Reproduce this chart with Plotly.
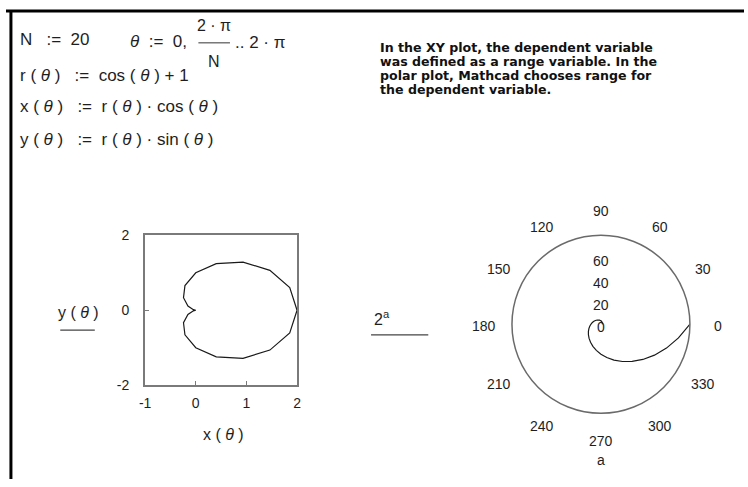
import math
import plotly.graph_objects as go

W, H = 748, 487

# ---- data ----
# XY plot: cardioid sampled at theta = 0, 2*pi/20 .. 2*pi  (21 points)
x_theta = [2.0, 1.85557, 1.46353, 0.93329, 0.40451, 0.0, -0.21353, -0.24229, -0.15451, -0.04655, 0.0,
           -0.04655, -0.15451, -0.24229, -0.21353, 0.0, 0.40451, 0.93329, 1.46353, 1.85557, 2.0]
y_theta = [0.0, 0.60292, 1.06331, 1.28455, 1.24495, 1.0, 0.65716, 0.33349, 0.11226, 0.01512, 0.0,
           -0.01512, -0.11226, -0.33349, -0.65716, -1.0, -1.24495, -1.28455, -1.06331, -0.60292, 0.0]
x_ticks = [-1, 0, 1, 2]
x_ticktext = ["-1", "0", "1", "2"]
y_ticks = [-2, 0, 2]
y_ticktext = ["-2", "0", "2"]

# Polar plot: 2^a, a from 0 to 2*pi (degrees listed)
a_deg = [0, 10, 20, 30, 40, 50, 60, 70, 80, 90, 100, 110, 120, 130, 140, 150, 160, 170, 180,
         190, 200, 210, 220, 230, 240, 250, 260, 270, 280, 290, 300, 310, 320, 330, 340, 350, 360]
r_a = [1.0, 1.1286, 1.2737, 1.4375, 1.6224, 1.8310, 2.0665, 2.3322, 2.6321, 2.9707, 3.3527,
       3.7839, 4.2705, 4.8196, 5.4394, 6.1389, 6.9283, 7.8193, 8.8250, 9.9598, 11.2406,
       12.6861, 14.3175, 16.1587, 18.2367, 20.5818, 23.2286, 26.2156, 29.5868, 33.3916,
       37.6856, 42.5318, 48.0012, 54.1739, 61.1404, 69.0028, 77.8766]
ang_ticks = [0, 30, 60, 90, 120, 150, 180, 210, 240, 270, 300, 330]
rad_ticks = [0, 20, 40, 60]
r_max = 78

FONT = "Liberation Sans, Arial, sans-serif"
NOTE_FONT = "DejaVu Sans, Verdana, sans-serif"
INK = "#1e1e1e"

def px(x):
    return x / W

def py(y):
    return 1 - y / H

fig = go.Figure()

fig.add_trace(go.Scatter(x=x_theta, y=y_theta, mode="lines",
                         line=dict(color="#1a1a1a", width=1.2),
                         xaxis="x", yaxis="y", showlegend=False, hoverinfo="skip"))

fig.add_trace(go.Scatterpolar(r=r_a, theta=a_deg, mode="lines",
                              line=dict(color="#1a1a1a", width=1.2),
                              showlegend=False, hoverinfo="skip"))

# XY plot geometry (pixels)
xl, xr, yt, yb = 141, 295, 235, 390
# polar geometry (pixels)
cx, cy, R = 603, 327, 92

tickfont = dict(family=FONT, size=14, color=INK)
fig.update_layout(
    width=W, height=H,
    margin=dict(l=0, r=0, t=0, b=0),
    paper_bgcolor="white", plot_bgcolor="white",
    font=dict(family=FONT, color=INK, size=14),
    xaxis=dict(domain=[px(xl), px(xr)], range=[-1, 2], tickvals=x_ticks, ticktext=x_ticktext,
               showgrid=False, zeroline=False, showline=True, mirror=True,
               linecolor="#7a7a7a", linewidth=2, ticks="inside", ticklen=4,
               tickcolor="#7a7a7a", tickfont=tickfont, ticklabelstandoff=4,
               anchor="y", fixedrange=True),
    yaxis=dict(domain=[py(yb), py(yt)], range=[-2, 2], tickvals=y_ticks, ticktext=y_ticktext,
               showgrid=False, zeroline=False, showline=True, mirror=True,
               linecolor="#7a7a7a", linewidth=2, ticks="inside", ticklen=4,
               tickcolor="#7a7a7a", tickfont=tickfont,
               ticklabelstandoff=11, anchor="x", fixedrange=True),
    polar=dict(
        domain=dict(x=[px(cx - R), px(cx + R)], y=[py(cy + R), py(cy - R)]),
        bgcolor="white",
        angularaxis=dict(tickvals=ang_ticks, direction="counterclockwise", rotation=0,
                         showgrid=False, showline=True, linecolor="#6a6a6a", linewidth=1.5,
                         ticks="", showticklabels=False),
        radialaxis=dict(range=[0, r_max], showgrid=False, showline=False,
                        showticklabels=False, ticks=""),
    ),
)

ann = []

def text(x, y, s, size=17, anchor="left", family=FONT, color=INK):
    ann.append(dict(x=px(x), y=py(y), xref="paper", yref="paper", text=s,
                    showarrow=False, xanchor=anchor, yanchor="middle",
                    font=dict(family=family, size=size, color=color)))

s = "&nbsp;"
th = "<i>θ</i>"
par = "(" + s + th + s + ")"
text(12, 33, "N" + s * 3 + ":=" + s * 2 + "20")
text(124, 35, th + s * 2 + ":=" + s * 2 + "0,")
text(211, 18, "2" + s + "·" + s + "π", anchor="center", size=16)
text(211, 55, "N", anchor="center", size=16)
text(230, 36, ".." + s + "2" + s + "·" + s + "π")
text(12, 70, "r" + s + par + s * 3 + ":=" + s * 2 + "cos" + s + par + s + "+" + s + "1")
text(12, 102, "x" + s + par + s * 3 + ":=" + s * 2 + "r" + s + par + s + "·" + s + "cos" + s + par)
text(12, 136, "y" + s + par + s * 3 + ":=" + s * 2 + "r" + s + par + s + "·" + s + "sin" + s + par)

note = ["In the XY plot, the dependent variable",
        "was defined as a range variable. In the",
        "polar plot, Mathcad chooses range for",
        "the dependent variable."]
for i, line in enumerate(note):
    text(377, 41 + 14.4 * i, "<b>" + line + "</b>", size=12.6, family=NOTE_FONT, color="#111")

# axis titles of XY plot
text(220, 441, "x" + s + par, anchor="center", size=16)
text(73, 315, "y" + s + par, anchor="center", size=16)

# polar placeholder label and angle variable
text(381, 321, "2<sup>a</sup>", anchor="center", size=16)
text(603, 467, "a", anchor="center", size=14)

# angular tick labels, centred on a ring outside the polar frame
lab_r, lab_cy = 119, 329
for a in ang_ticks:
    ang = math.radians(a)
    text(cx + lab_r * math.cos(ang), lab_cy - lab_r * math.sin(ang), str(a),
         anchor="center", size=14)

# radial tick labels of polar plot along 90 degrees
for rv in rad_ticks:
    text(cx, cy + 3 - rv * 22.7 / 20, str(rv), anchor="center", size=14)

fig.update_layout(annotations=ann)

shapes = [
    # worksheet frame
    dict(type="line", xref="paper", yref="paper", x0=0, x1=1, y0=py(3), y1=py(3),
         line=dict(color="black", width=3)),
    dict(type="line", xref="paper", yref="paper", x0=px(5), x1=px(5), y0=0, y1=py(3),
         line=dict(color="black", width=3)),
    # fraction bar
    dict(type="line", xref="paper", yref="paper", x0=px(195), x1=px(227), y0=py(36), y1=py(36),
         line=dict(color="#555", width=1.2)),
    # underline below y(theta)
    dict(type="line", xref="paper", yref="paper", x0=px(55), x1=px(90), y0=py(333), y1=py(333),
         line=dict(color="#444", width=1.2)),
    # underline below 2^a
    dict(type="line", xref="paper", yref="paper", x0=px(370), x1=px(428), y0=py(338), y1=py(338),
         line=dict(color="#444", width=1.2)),
]
fig.update_layout(shapes=shapes)

fig.write_html("out.html", config={"displayModeBar": False},
               post_script="document.body.style.margin='0';document.body.style.overflow='hidden';")
